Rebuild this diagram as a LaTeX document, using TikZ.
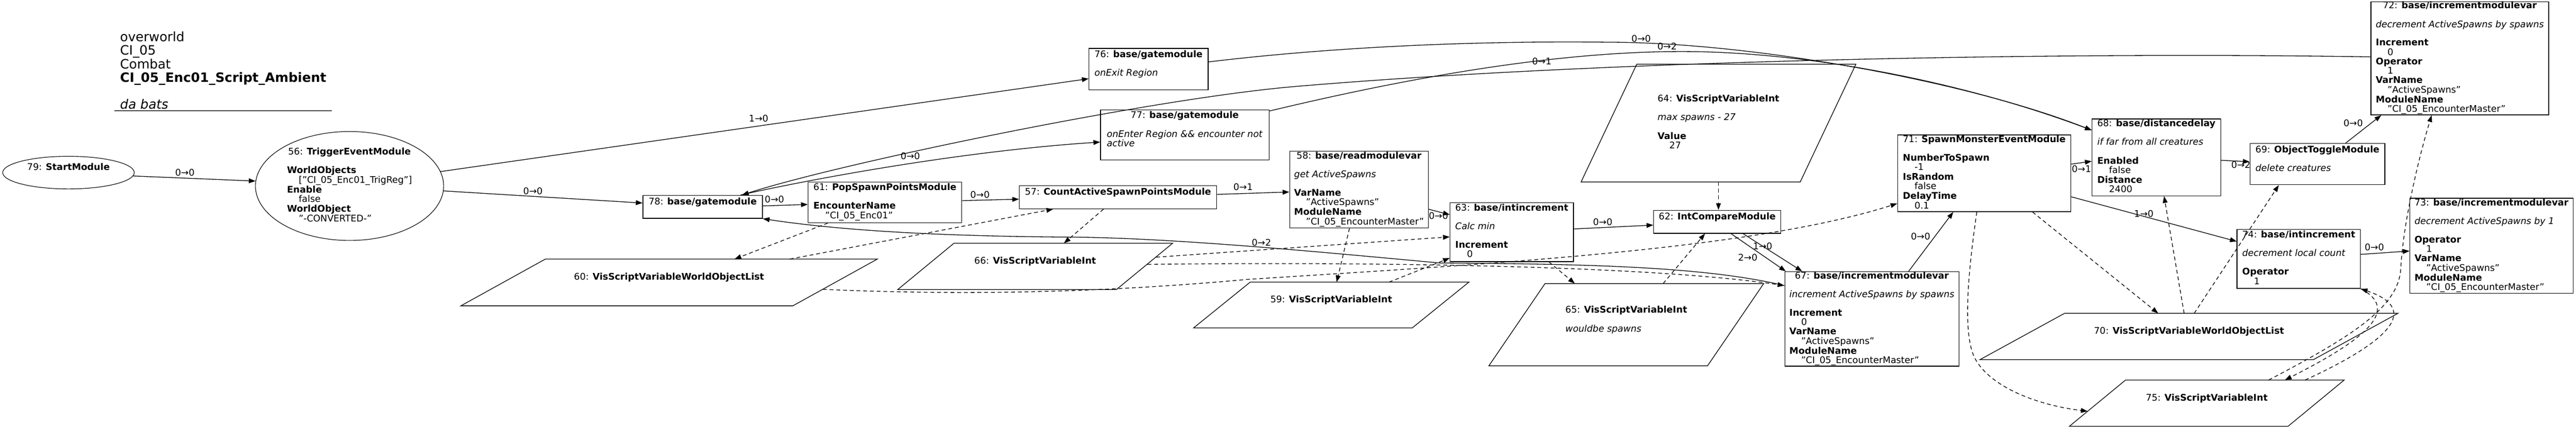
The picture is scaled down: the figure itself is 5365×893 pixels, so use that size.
\documentclass[tikz,border=0pt]{standalone}
\usepackage{fontspec}
\setmainfont{DejaVu Sans}
\usetikzlibrary{arrows.meta,calc,shapes.geometric}
\newcommand\nfont{\fontsize{19.1pt}{18.7pt}\selectfont}
\newcommand\tfont{\fontsize{26.9pt}{26.8pt}\selectfont}
\newcommand\vind{\hspace*{24.5pt}}
\newcommand\ntab[2]{\begin{tabular}{@{}l@{}}\multicolumn{1}{@{}c@{}}{#1}\\#2\end{tabular}}
\newcommand\pgram[2]{\draw[pline] ($(#1.north west)+(#2,0)$) -- (#1.north east) -- ($(#1.south east)+(-#2,0)$) -- (#1.south west) -- cycle;}
\begin{document}
\begin{tikzpicture}[x=1pt,y=-1pt,
  mbox/.style={draw, line width=1.4pt, inner sep=0pt, font=\nfont, rectangle},
  mell/.style={draw, line width=1.2pt, inner sep=0pt, font=\nfont, ellipse},
  pvar/.style={inner sep=0pt, font=\nfont, rectangle},
  pline/.style={draw, line width=1.4pt},
  elab/.style={inner sep=0pt, font=\nfont},
  flow/.style={line width=1.4pt, -{Triangle[length=14pt,width=10pt]}},
  varl/.style={flow, dash pattern=on 8pt off 6pt},
]
\fill[white] (0,0) rectangle (5365,893);
\useasboundingbox (0,0) rectangle (5365,893);

% title
\node[anchor=north west, inner sep=0pt, font=\tfont] (title) at (250,66) {\begin{tabular}{@{}l@{}}overworld\\CI\_05\\Combat\\\textbf{CI\_05\_Enc01\_Script\_Ambient}\\ \mbox{}\\\textit{da bats}\end{tabular}};
\draw[line width=2pt, draw=black!70] (238,231) -- (691,231);

% ellipses
\node[mell, minimum width=274pt, minimum height=68pt] (n79) at (142.6,359.6) {\ntab{79: \textbf{StartModule}}{\mbox{}}};
\node[mell, minimum width=392pt, minimum height=227pt] (n56) at (728,387.5) {\ntab{56: \textbf{TriggerEventModule}}{\mbox{}\\\textbf{WorldObjects}\\\vind["CI\_05\_Enc01\_TrigReg"]\\\textbf{Enable}\\\vind false\\\textbf{WorldObject}\\\vind"-CONVERTED-"}};

% boxes
\node[mbox, minimum width=249pt, minimum height=48pt] (n78) at (1463.5,431) {\ntab{78: \textbf{base/gatemodule}}{\mbox{}}};
\node[mbox, minimum width=320pt, minimum height=85pt] (n61) at (1843,421.5) {\ntab{61: \textbf{PopSpawnPointsModule}}{\mbox{}\\\textbf{EncounterName}\\\vind"CI\_05\_Enc01"}};
\node[mbox, minimum width=411pt, minimum height=48pt] (n57) at (2328.5,411) {\ntab{57: \textbf{CountActiveSpawnPointsModule}}{\mbox{}}};
\node[mbox, minimum width=289pt, minimum height=160pt] (n58) at (2830.5,395) {\ntab{58: \textbf{base/readmodulevar}}{\mbox{}\\\textit{get ActiveSpawns}\\\mbox{}\\\textbf{VarName}\\\vind"ActiveSpawns"\\\textbf{ModuleName}\\\vind"CI\_05\_EncounterMaster"}};
\node[mbox, minimum width=248pt, minimum height=86pt] (n76) at (2392,144) {\ntab{76: \textbf{base/gatemodule}}{\mbox{}\\\textit{onExit Region}\\\mbox{}}};
\node[mbox, minimum width=351pt, minimum height=104pt] (n77) at (2467.5,281) {\ntab{77: \textbf{base/gatemodule}}{\mbox{}\\\textit{onEnter Region \&\& encounter not}\\\textit{active}\\\mbox{}}};
\node[mbox, minimum width=257pt, minimum height=123pt] (n63) at (3148.5,483.5) {\ntab{63: \textbf{base/intincrement}}{\mbox{}\\\textit{Calc min}\\\mbox{}\\\textbf{Increment}\\\vind 0}};
\node[mbox, minimum width=265pt, minimum height=48pt] (n62) at (3576.5,462) {\ntab{62: \textbf{IntCompareModule}}{\mbox{}}};
\node[mbox, minimum width=363pt, minimum height=197pt] (n67) at (3898.5,664.5) {\ntab{67: \textbf{base/incrementmodulevar}}{\mbox{}\\\textit{increment ActiveSpawns by spawns}\\\mbox{}\\\textbf{Increment}\\\vind 0\\\textbf{VarName}\\\vind"ActiveSpawns"\\\textbf{ModuleName}\\\vind"CI\_05\_EncounterMaster"}};
\node[mbox, minimum width=361pt, minimum height=160pt] (n71) at (4132.5,361) {\ntab{71: \textbf{SpawnMonsterEventModule}}{\mbox{}\\\textbf{NumberToSpawn}\\\vind -1\\\textbf{IsRandom}\\\vind false\\\textbf{DelayTime}\\\vind 0.1}};
\node[mbox, minimum width=268pt, minimum height=160pt] (n68) at (4491,328) {\ntab{68: \textbf{base/distancedelay}}{\mbox{}\\\textit{if far from all creatures}\\\mbox{}\\\textbf{Enabled}\\\vind false\\\textbf{Distance}\\\vind 2400}};
\node[mbox, minimum width=281pt, minimum height=86pt] (n69) at (4826.5,342) {\ntab{69: \textbf{ObjectToggleModule}}{\mbox{}\\\textit{delete creatures}\\\mbox{}}};
\node[mbox, minimum width=370pt, minimum height=235pt] (n72) at (5123,121.5) {\ntab{72: \textbf{base/incrementmodulevar}}{\mbox{}\\\textit{decrement ActiveSpawns by spawns}\\\mbox{}\\\textbf{Increment}\\\vind 0\\\textbf{Operator}\\\vind 1\\\textbf{VarName}\\\vind"ActiveSpawns"\\\textbf{ModuleName}\\\vind"CI\_05\_EncounterMaster"}};
\node[mbox, minimum width=340pt, minimum height=198pt] (n73) at (5189,512) {\ntab{73: \textbf{base/incrementmodulevar}}{\mbox{}\\\textit{decrement ActiveSpawns by 1}\\\mbox{}\\\textbf{Operator}\\\vind 1\\\textbf{VarName}\\\vind"ActiveSpawns"\\\textbf{ModuleName}\\\vind"CI\_05\_EncounterMaster"}};
\node[mbox, minimum width=257pt, minimum height=123pt] (n74) at (4787.5,539.5) {\ntab{74: \textbf{base/intincrement}}{\mbox{}\\\textit{decrement local count}\\\mbox{}\\\textbf{Operator}\\\vind 1}};

% variables (parallelograms)
\node[pvar, minimum width=867pt, minimum height=97pt] (n60) at (1393.5,588.5) {\ntab{60: \textbf{VisScriptVariableWorldObjectList}}{\mbox{}}};
\pgram{n60}{176}
\node[pvar, minimum width=572pt, minimum height=96pt] (n66) at (2156,555) {\ntab{66: \textbf{VisScriptVariableInt}}{\mbox{}}};
\pgram{n66}{117}
\node[pvar, minimum width=573pt, minimum height=95pt] (n59) at (2772.5,635.5) {\ntab{59: \textbf{VisScriptVariableInt}}{\mbox{}}};
\pgram{n59}{118}
\node[pvar, minimum width=572pt, minimum height=171pt] (n65) at (3387,676.5) {\ntab{65: \textbf{VisScriptVariableInt}}{\mbox{}\\\textit{wouldbe spawns}\\\mbox{}}};
\pgram{n65}{117}
\node[pvar, minimum width=572pt, minimum height=245pt] (n64) at (3579,256.5) {\ntab{64: \textbf{VisScriptVariableInt}}{\mbox{}\\\textit{max spawns - 27}\\\mbox{}\\\textbf{Value}\\\vind 27}};
\pgram{n64}{116}
\node[pvar, minimum width=870pt, minimum height=96pt] (n70) at (4559,701) {\ntab{70: \textbf{VisScriptVariableWorldObjectList}}{\mbox{}}};
\pgram{n70}{176}
\node[pvar, minimum width=572pt, minimum height=96pt] (n75) at (4596,840) {\ntab{75: \textbf{VisScriptVariableInt}}{\mbox{}}};
\pgram{n75}{117}

% solid connectors
\draw[flow] (n79.-3) -- (n56.177);
\draw[flow] (n56.-3) -- ($(n78.west)+(0,-8)$);
\draw[flow] (n56.9) -- ($(n76.west)+(0,20)$);
\draw[flow] ($(n78.north west)+(204,0)$) .. controls (1680,375) and (2000,315) .. ($(n77.west)+(0,15)$);
\draw[flow] ($(n72.west)+(0,-3)$) .. controls (4300,108) and (3350,125) .. (2700,180) .. controls (2400,205) and (1750,340) .. ($(n78.north west)+(207,0)$);
\draw[flow] ($(n76.east)+(0,-15)$) .. controls (2800,95) and (3100,85) .. (3350,88) .. controls (3650,88) and (4100,170) .. ($(n68.north west)+(0,24)$);
\draw[flow] ($(n77.north east)+(0,3)$) .. controls (2900,170) and (3250,100) .. (3550,108) .. controls (3800,115) and (4100,175) .. ($(n68.north west)+(0,24)$);
\draw[flow] ($(n67.west)+(0,-69.5)$) .. controls (3550,555) and (3300,550) .. (3000,548) .. controls (2800,530) and (2450,495) .. (2225,494) .. controls (1950,492) and (1750,480) .. (n78.south east);
\draw[flow] ($(n78.east)+(0,-2)$) -- ($(n61.west)+(0,4.5)$);
\draw[flow] ($(n61.east)+(0,-3.5)$) -- ($(n57.west)+(0,4)$);
\draw[flow] ($(n57.east)+(0,-6)$) -- ($(n58.west)+(0,5)$);
\draw[flow] ($(n58.east)+(0,41)$) -- ($(n63.north west)+(0,26)$);
\draw[flow] ($(n63.east)+(0,-6.5)$) -- ($(n62.west)+(0,7)$);
\draw[flow] ($(n62.south)+(53.5,0)$) -- ($(n67.north west)+(37,0)$);
\draw[flow] ($(n62.south)+(28.5,0)$) -- ($(n67.north west)+(3,0)$);
\draw[flow] ($(n67.north)+(76.5,0)$) -- ($(n71.south)+(-64.5,0)$);
\draw[flow] ($(n71.east)+(0,-19)$) -- ($(n68.west)+(0,8)$);
\draw[flow] ($(n71.east)+(0,49)$) -- ($(n74.west)+(0,-36.5)$);
\draw[flow] ($(n68.east)+(0,6)$) -- ($(n69.west)+(0,-5)$);
\draw[flow] ($(n69.north)+(58.5,0)$) -- ($(n72.south west)+(22,0)$);
\draw[flow] ($(n74.east)+(0,-9.5)$) -- ($(n73.west)+(0,11)$);

% dashed connectors
\draw[varl] ($(n61.south west)+(42,0)$) -- ($(n60.north west)+(570,0)$);
\draw[varl] ($(n60.north west)+(685,0)$) -- ($(n57.south west)+(71,0)$);
\draw[varl] ($(n57.south west)+(176,0)$) -- ($(n66.north west)+(346,0)$);
\draw[varl] ($(n60.north west)+(754,63)$) .. controls (2100,620) and (2400,600) .. (2600,582) .. controls (3100,550) and (3650,520) .. ($(n71.west)+(0,63)$);
\draw[varl] ($(n66.north west)+(538,29)$) -- ($(n63.west)+(0,10)$);
\draw[varl] ($(n66.north west)+(520,44)$) .. controls (2900,545) and (3450,555) .. ($(n67.west)+(0,-69.5)$);
\draw[varl] ($(n59.north west)+(407,0)$) -- ($(n63.south west)+(0,-8)$);
\draw[varl] ($(n58.south)+(-20,0)$) -- ($(n59.north west)+(298,0)$);
\draw[varl] ($(n63.south)+(77.5,0)$) -- ($(n65.north west)+(179,0)$);
\draw[varl] ($(n65.north west)+(363,0)$) -- ($(n62.south)+(-25.5,0)$);
\draw[varl] (n64.south) -- (n64.south |- n62.north);
\draw[varl] ($(n71.south)+(100.5,0)$) -- ($(n70.north west)+(371,0)$);
\draw[varl] ($(n71.south)+(-15.5,0)$) .. controls (4100,560) and (4085,700) .. (4115,750) .. controls (4150,810) and (4250,845) .. ($(n75.north west)+(38,65)$);
\draw[varl] ($(n70.north west)+(425,0)$) -- ($(n68.south)+(16,0)$);
\draw[varl] ($(n70.north west)+(446,0)$) -- ($(n69.south)+(-80.5,0)$);
\draw[varl] ($(n75.north west)+(415,0)$) .. controls (4900,700) and (4995,640) .. (5000,560) .. controls (5005,460) and (5040,320) .. ($(n72.south west)+(127,0)$);
\draw[varl] ($(n75.north west)+(491,0)$) .. controls (5000,700) and (5030,640) .. (n74.south east);
\draw[varl] (n74.south east) .. controls (5010,650) and (4900,720) .. ($(n75.north west)+(449,0)$);

% connector labels
\node[elab] (l1) at (385,360) {0→0};
\node[elab] (l2) at (1110,398) {0→0};
\node[elab] (l3) at (1580,247) {1→0};
\node[elab] (l4) at (1896,325) {0→0};
\node[elab] (l5) at (3211,128) {0→1};
\node[elab] (l6) at (3418,81) {0→0};
\node[elab] (l7) at (3472,97) {0→2};
\node[elab] (l8) at (2627,505) {0→2};
\node[elab] (l9) at (1613,415) {0→0};
\node[elab] (l10) at (2041,406) {0→0};
\node[elab] (l11) at (2589,390) {0→1};
\node[elab] (l12) at (2996,450) {0→0};
\node[elab] (l13) at (3338,462) {0→0};
\node[elab] (l14) at (3671,513) {1→0};
\node[elab] (l15) at (3640,536) {2→0};
\node[elab] (l16) at (4000,493) {0→0};
\node[elab] (l17) at (4335,352) {0→1};
\node[elab] (l18) at (4465,445) {1→0};
\node[elab] (l19) at (4667,343) {0→2};
\node[elab] (l20) at (4901,257) {0→0};
\node[elab] (l21) at (4945,515) {0→0};
\end{tikzpicture}
\end{document}
